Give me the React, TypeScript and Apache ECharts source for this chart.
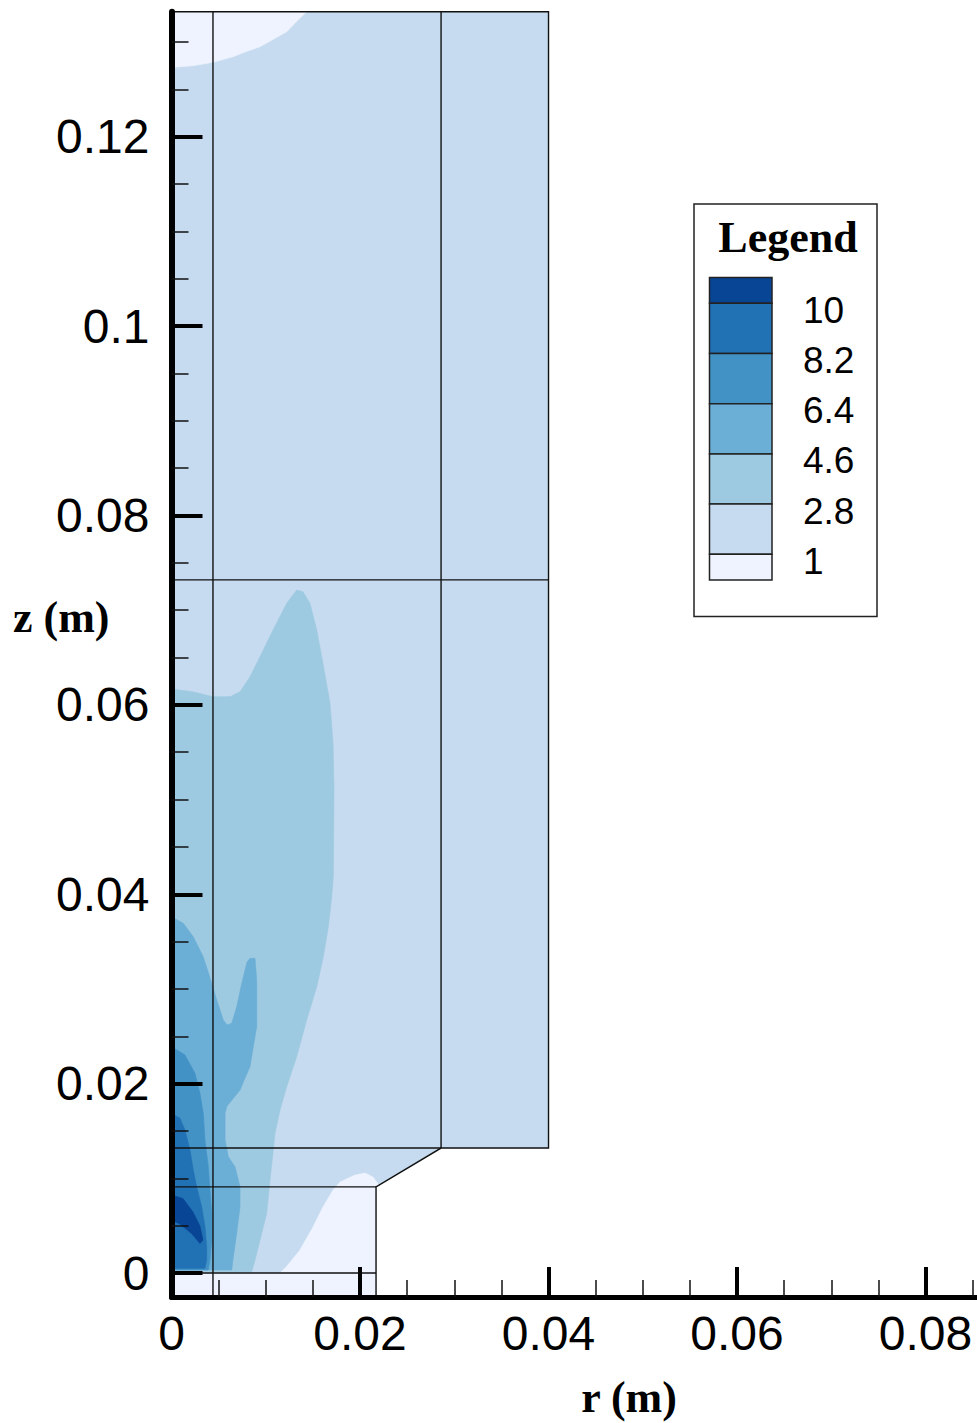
import React, { useEffect, useRef } from "react";
import * as echarts from "echarts";

// ---- level legend (high -> low) ----
const levelLabels = ["10", "8.2", "6.4", "4.6", "2.8", "1"];
const levelColors = ["#084594", "#2171b5", "#4292c6", "#6baed6", "#9ecae1", "#c6dbef", "#eff3ff"];

// ---- axis ticks ----
const xMajorTicks = [0, 0.02, 0.04, 0.06, 0.08];
const xMinorTicks = [0.005, 0.01, 0.015, 0.025, 0.03, 0.035, 0.045, 0.05, 0.055, 0.065, 0.07, 0.075, 0.085];
const yMajorTicks = [0, 0.02, 0.04, 0.06, 0.08, 0.1, 0.12];
const yMinorTicks = [0.005, 0.01, 0.015, 0.025, 0.03, 0.035, 0.045, 0.05, 0.055, 0.065, 0.07, 0.075, 0.085, 0.09, 0.095, 0.105, 0.11, 0.115, 0.125, 0.13];

const xRange = [0, 0.08546];
const yRange = [-0.00253, 0.1332];

// ---- geometry (r, z) in metres ----
const domainFill = [[0, -0.00253], [0.0217, -0.00253], [0.0217, 0.0091], [0.0286, 0.0132], [0.04, 0.0132], [0.04, 0.1332], [0, 0.1332]];
const blockLines = [
  [[0, -0.00253], [0.0217, -0.00253], [0.0217, 0.0091], [0.0286, 0.0132], [0.04, 0.0132], [0.04, 0.1332], [0, 0.1332]],
  [[0.0044, -0.00253], [0.0044, 0.1332]],
  [[0.0286, 0.0132], [0.0286, 0.1332]],
  [[0, 0.0732], [0.04, 0.0732]],
  [[0, 0.0132], [0.0286, 0.0132]],
  [[0, 0.0091], [0.0217, 0.0091]],
  [[0, 0], [0.0217, 0]],
];

// ---- contour regions (value bands) ----
const bandBelow1Bottom = [[0, -0.00253], [0.0217, -0.00253], [0.0217, 0.0091], [0.022, 0.00929], [0.02138, 0.01014], [0.02053, 0.01056], [0.01947, 0.01035], [0.01788, 0.00961], [0.01714, 0.00876], [0.01607, 0.00697], [0.01501, 0.00486], [0.01363, 0.00243], [0.01225, 0.00074], [0.01151, 0], [0, 0]];
const bandBelow1Top = [[0, 0.1332], [0.01434, 0.1332], [0.01321, 0.1321], [0.01222, 0.13108], [0.01066, 0.1302], [0.00939, 0.1295], [0.0078, 0.12894], [0.00653, 0.12844], [0.0044, 0.12785], [0.00228, 0.12749], [0, 0.12732]];
const band28 = [[0, 0.00014], [0, 0.06167], [0.00228, 0.06138], [0.0044, 0.06086], [0.00621, 0.06086], [0.00727, 0.06138], [0.00833, 0.06297], [0.00939, 0.06508], [0.01077, 0.0679], [0.01222, 0.07072], [0.01328, 0.07212], [0.01395, 0.07194], [0.01469, 0.07072], [0.01541, 0.0679], [0.01607, 0.06438], [0.01682, 0.06016], [0.01714, 0.05593], [0.01724, 0.051], [0.01717, 0.04185], [0.017, 0.03974], [0.01664, 0.03657], [0.01611, 0.0334], [0.01541, 0.03023], [0.01434, 0.02672], [0.01328, 0.02284], [0.01222, 0.01967], [0.01151, 0.01721], [0.01098, 0.01475], [0.0108, 0.01299], [0.01045, 0.00982], [0.0101, 0.0063], [0.00939, 0.00348], [0.00886, 0.00137], [0.00851, 0.00014]];
const band46 = [[0, 0.03762], [0.00125, 0.03693], [0.00231, 0.03551], [0.00337, 0.0334], [0.00427, 0.03059], [0.0048, 0.02883], [0.0055, 0.02672], [0.00589, 0.02619], [0.00639, 0.02637], [0.00692, 0.02812], [0.00745, 0.03059], [0.00801, 0.03284], [0.00833, 0.03323], [0.00886, 0.03323], [0.00904, 0.03094], [0.00904, 0.02777], [0.00904, 0.02601], [0.00868, 0.0239], [0.00833, 0.02178], [0.0078, 0.02059], [0.00727, 0.01932], [0.00642, 0.01827], [0.00589, 0.01763], [0.00568, 0.01686], [0.00568, 0.01404], [0.00603, 0.01228], [0.00674, 0.01123], [0.00727, 0.00911], [0.00727, 0.007], [0.00692, 0.00419], [0.00656, 0.00172], [0.00639, 0.00032], [0, 0.00032]];
const band64 = [[0, 0.0239], [0.00143, 0.02302], [0.00249, 0.02109], [0.00302, 0.01898], [0.00337, 0.01686], [0.00355, 0.01404], [0.0039, 0.01123], [0.00408, 0.00876], [0.00427, 0.0063], [0.00427, 0.00348], [0.00408, 0.00137], [0.0039, 0.00032], [0, 0.00032]];
const band82 = [[0, 0.01686], [0.0009, 0.01634], [0.00143, 0.0151], [0.00196, 0.01299], [0.00231, 0.01088], [0.00267, 0.00911], [0.0032, 0.007], [0.00355, 0.00489], [0.00373, 0.00278], [0.00373, 0.00137], [0.00355, 0.0005], [0, 0.0005]];
const band10 = [[0, 0.00824], [0.00122, 0.00787], [0.00228, 0.00644], [0.00302, 0.00496], [0.00334, 0.00348], [0.00302, 0.00312], [0.00218, 0.00412], [0.0009, 0.00517], [0, 0.0056]];

const regions: { pts: number[][]; color: string }[] = [
  { pts: domainFill, color: levelColors[5] },
  { pts: bandBelow1Bottom, color: levelColors[6] },
  { pts: bandBelow1Top, color: levelColors[6] },
  { pts: band28, color: levelColors[4] },
  { pts: band46, color: levelColors[3] },
  { pts: band64, color: levelColors[2] },
  { pts: band82, color: levelColors[1] },
  { pts: band10, color: levelColors[0] },
];

const numFont = '"Liberation Sans", Arial, sans-serif';
const serifFont = '"Liberation Serif", "Times New Roman", serif';

export default function App() {
  const ref = useRef<HTMLDivElement>(null);
  useEffect(() => {
    if (!ref.current) return;
    const chart = echarts.init(ref.current, null, { renderer: "svg" });

    const polySeries = regions.map((rg) => ({
      type: "custom",
      coordinateSystem: "cartesian2d",
      xAxisIndex: 0,
      yAxisIndex: 0,
      silent: true,
      z: 2,
      clip: true,
      data: rg.pts,
      encode: { x: 0, y: 1 },
      renderItem: (params: any, api: any) => {
        if (params.dataIndex !== 0) return null;
        return {
          type: "polygon",
          shape: { points: rg.pts.map((p) => api.coord(p)) },
          style: { fill: rg.color, stroke: rg.color, lineWidth: 0.6 },
        };
      },
    }));

    const lineSeries = blockLines.map((ln) => ({
      type: "custom",
      coordinateSystem: "cartesian2d",
      xAxisIndex: 0,
      yAxisIndex: 0,
      silent: true,
      z: 3,
      clip: false,
      data: ln,
      encode: { x: 0, y: 1 },
      renderItem: (params: any, api: any) => {
        if (params.dataIndex !== 0) return null;
        return {
          type: "polyline",
          shape: { points: ln.map((p) => api.coord(p)) },
          style: { fill: "none", stroke: "#111", lineWidth: 1.4 },
        };
      },
    }));

    // legend graphics
    const swX = 709.5, swW = 62.5, swTop = 277.5, rowH = 50.2, halfH = 25.8;
    const bounds: number[] = [swTop];
    for (let i = 0; i < levelColors.length; i++) {
      const h = i === 0 || i === levelColors.length - 1 ? halfH : rowH;
      bounds.push(bounds[i] + h);
    }
    const legendEls: any[] = [
      { type: "rect", shape: { x: 694, y: 204, width: 183, height: 412.5 }, style: { fill: "#fff", stroke: "#222", lineWidth: 1.5 }, z: 20 },
      { type: "text", x: 788, y: 237, style: { text: "Legend", fontFamily: serifFont, fontWeight: "bold", fontSize: 44, fill: "#000", align: "center", verticalAlign: "middle" }, z: 21 },
    ];
    levelColors.forEach((c, i) => {
      legendEls.push({
        type: "rect",
        shape: { x: swX, y: bounds[i], width: swW, height: bounds[i + 1] - bounds[i] },
        style: { fill: c, stroke: "#222", lineWidth: 1.5 },
        z: 21,
      });
    });
    levelLabels.forEach((t, i) => {
      legendEls.push({
        type: "text",
        x: 803,
        y: bounds[i + 1] + 7,
        style: { text: t, fontFamily: numFont, fontSize: 37, fill: "#000", align: "left", verticalAlign: "middle" },
        z: 21,
      });
    });
    legendEls.push(
      { type: "text", x: 13, y: 617, style: { text: "z (m)", fontFamily: serifFont, fontWeight: "bold", fontSize: 44, fill: "#000", align: "left", verticalAlign: "middle" }, z: 21 },
      { type: "text", x: 629, y: 1397, style: { text: "r (m)", fontFamily: serifFont, fontWeight: "bold", fontSize: 44, fill: "#000", align: "center", verticalAlign: "middle" }, z: 21 }
    );

    const fmt = (v: number) => String(v);

    chart.setOption({
      animation: false,
      backgroundColor: "#fff",
      grid: { left: 171.5, right: 0, top: 11.7, bottom: 126, containLabel: false, outerBoundsMode: "none" },
      xAxis: [
        {
          type: "value", min: xRange[0], max: xRange[1], position: "bottom", z: 10,
          axisLine: { show: true, onZero: false, lineStyle: { color: "#000", width: 5 } },
          axisTick: { show: true, inside: true, length: 30, customValues: xMajorTicks, lineStyle: { color: "#000", width: 4 } },
          axisLabel: { show: true, customValues: xMajorTicks, formatter: fmt, margin: 12, fontSize: 48, fontFamily: numFont, color: "#000", showMinLabel: true, showMaxLabel: true },
          splitLine: { show: false },
        },
        {
          type: "value", min: xRange[0], max: xRange[1], position: "bottom", z: 10,
          axisLine: { show: false, onZero: false },
          axisTick: { show: true, inside: true, length: 17, customValues: xMinorTicks, lineStyle: { color: "#111", width: 1.5 } },
          axisLabel: { show: false },
          splitLine: { show: false },
        },
      ],
      yAxis: [
        {
          type: "value", min: yRange[0], max: yRange[1], position: "left", z: 10,
          axisLine: { show: true, onZero: false, lineStyle: { color: "#000", width: 6 } },
          axisTick: { show: true, inside: true, length: 31, customValues: yMajorTicks, lineStyle: { color: "#000", width: 4 } },
          axisLabel: { show: true, customValues: yMajorTicks, formatter: fmt, margin: 22, fontSize: 48, fontFamily: numFont, color: "#000" },
          splitLine: { show: false },
        },
        {
          type: "value", min: yRange[0], max: yRange[1], position: "left", z: 10,
          axisLine: { show: false, onZero: false },
          axisTick: { show: true, inside: true, length: 17, customValues: yMinorTicks, lineStyle: { color: "#111", width: 1.5 } },
          axisLabel: { show: false },
          splitLine: { show: false },
        },
      ],
      graphic: legendEls,
      series: [...polySeries, ...lineSeries],
    });

    return () => chart.dispose();
  }, []);

  return <div ref={ref} style={{ position: "fixed", left: 0, top: 0, width: 977, height: 1423 }} />;
}
